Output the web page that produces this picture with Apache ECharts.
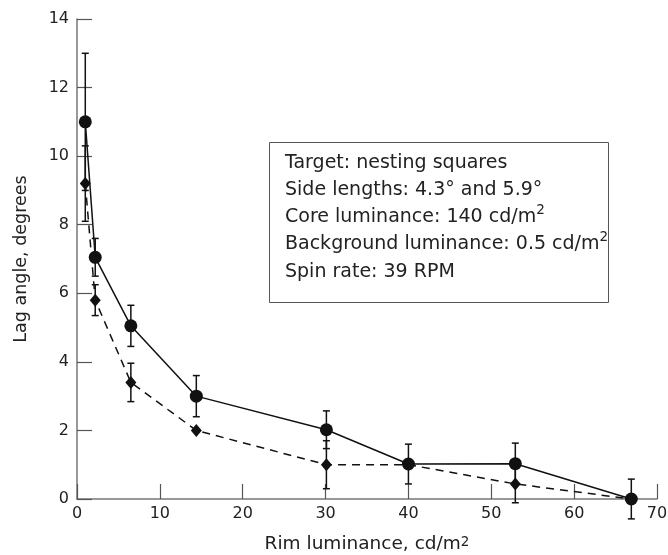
<!DOCTYPE html>
<html><head><meta charset="utf-8">
<script src="https://cdn.jsdelivr.net/npm/echarts@6/dist/echarts.min.js"></script>
<style>html,body{margin:0;padding:0;background:#fff}#c{width:668px;height:555px}</style>
</head><body><div id="c"></div>
<script>
// Rim luminance (cd/m2)
const xValues = [1, 2.2, 6.5, 14.4, 30.1, 40, 52.9, 66.9];
// Solid line, circles: lag angle (degrees) and error half-widths
const solidValues = [11, 7.05, 5.05, 3, 2.02, 1.02, 1.03, 0];
const solidErr = [2, 0.55, 0.6, 0.6, 0.55, 0.58, 0.6, 0.58];
// Dashed line, diamonds
const dashedValues = [9.2, 5.8, 3.4, 2.0, 1.0, 1.0, 0.44, 0];
const dashedErr = [1.1, 0.45, 0.56, 0, 0.7, 0, 0.55, 0];
const xTickLabels = [0, 10, 20, 30, 40, 50, 60, 70];
const yTickLabels = [0, 2, 4, 6, 8, 10, 12, 14];
const infoLines = [
  'Target: nesting squares',
  'Side lengths: 4.3\u00b0 and 5.9\u00b0',
  'Core luminance: 140 cd/m{s|2}',
  'Background luminance: 0.5 cd/m{s|2}',
  'Spin rate: 39 RPM'
];

const FONT = '"DejaVu Sans"';
const pairs = (ys) => xValues.map((x, i) => [x, ys[i]]);
const errData = (ys, es) => xValues.map((x, i) => [x, ys[i] - es[i], ys[i] + es[i]]).filter((d, i) => es[i] > 0);

function errRender(params, api) {
  const x = api.value(0);
  const lo = api.coord([x, api.value(1)]);
  const hi = api.coord([x, api.value(2)]);
  const w = 3.5;
  const st = { stroke: '#111', lineWidth: 1.5 };
  return {
    type: 'group',
    children: [
      { type: 'line', shape: { x1: lo[0], y1: lo[1], x2: hi[0], y2: hi[1] }, style: st },
      { type: 'line', shape: { x1: lo[0] - w, y1: lo[1], x2: lo[0] + w, y2: lo[1] }, style: st },
      { type: 'line', shape: { x1: hi[0] - w, y1: hi[1], x2: hi[0] + w, y2: hi[1] }, style: st }
    ]
  };
}

const chart = echarts.init(document.getElementById('c'), null, { renderer: 'canvas' });
const axisCommon = {
  axisLine: { show: true, lineStyle: { color: '#777', width: 1.5 } },
  axisTick: { show: true, inside: true, length: 15, lineStyle: { color: '#555', width: 1.2 } },
  splitLine: { show: false },
  axisLabel: { color: '#222', fontSize: 16, fontFamily: FONT },
  nameTextStyle: { color: '#222', fontSize: 17.5, fontFamily: FONT }
};
chart.setOption({
  animation: false,
  backgroundColor: '#fff',
  grid: { left: 77, right: 11, top: 19, bottom: 56, containLabel: false, outerBoundsMode: 'none' },
  xAxis: Object.assign({}, axisCommon, {
    type: 'value', min: 0, max: 70, interval: 10,
    axisLabel: Object.assign({}, axisCommon.axisLabel, { margin: 7, formatter: (v) => xTickLabels.includes(v) ? String(v) : '' }),
    name: 'Rim luminance, cd/m{s|2}',
    nameLocation: 'middle', nameGap: 36,
    nameTextStyle: { color: '#222', fontSize: 18.5, fontFamily: FONT,
      rich: { s: { fontSize: 13.5, fontFamily: FONT, color: '#222', verticalAlign: 'top', lineHeight: 13 } } }
  }),
  yAxis: Object.assign({}, axisCommon, {
    type: 'value', min: 0, max: 14, interval: 2,
    axisLabel: Object.assign({}, axisCommon.axisLabel, { margin: 8, formatter: (v) => yTickLabels.includes(v) ? String(v) : '' }),
    name: 'Lag angle, degrees',
    nameLocation: 'middle', nameGap: 47, nameRotate: 90
  }),
  graphic: [
    { type: 'rect', left: 269, top: 142, shape: { width: 339, height: 160 },
      style: { fill: '#fff', stroke: '#555', lineWidth: 1 }, z: 10 },
    { type: 'text', left: 285, top: 149, z: 11,
      style: { text: infoLines.join('\n'), fill: '#222', font: '19px ' + FONT, lineHeight: 27.3,
        rich: { s: { fontSize: 13.5, fontFamily: FONT, fill: '#222', verticalAlign: 'top', lineHeight: 21 } } } }
  ],
  series: [
    { type: 'custom', renderItem: errRender, data: errData(solidValues, solidErr), z: 3,
      encode: { x: 0, y: [1, 2] } },
    { type: 'custom', renderItem: errRender, data: errData(dashedValues, dashedErr), z: 3,
      encode: { x: 0, y: [1, 2] } },
    { type: 'line', data: pairs(dashedValues), symbol: 'diamond', symbolSize: [11, 13],
      lineStyle: { color: '#111', width: 1.5, type: [8, 6] }, itemStyle: { color: '#111' }, z: 4 },
    { type: 'line', data: pairs(solidValues), symbol: 'circle', symbolSize: 13,
      lineStyle: { color: '#111', width: 1.5 }, itemStyle: { color: '#111' }, z: 5 }
  ]
});
</script></body></html>
